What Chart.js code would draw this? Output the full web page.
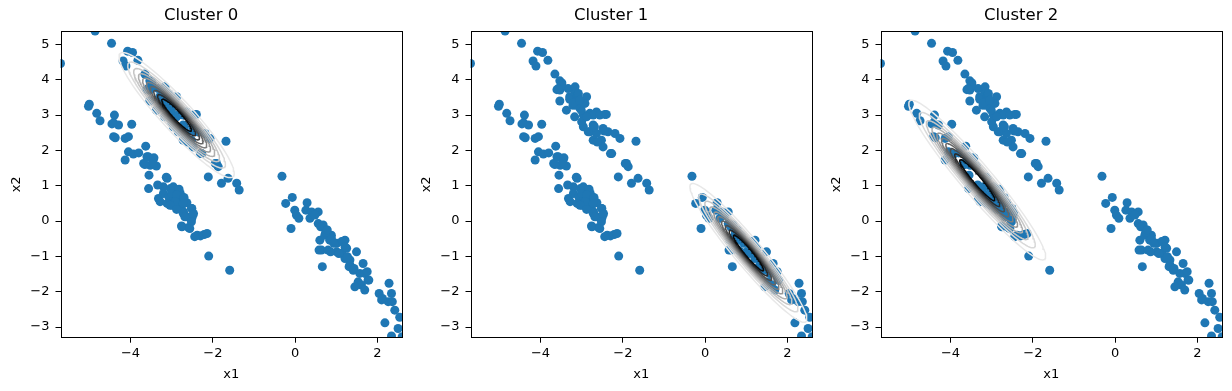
<!DOCTYPE html>
<html>
<head>
<meta charset="utf-8">
<script src="https://cdn.jsdelivr.net/npm/chart.js@4.4.1/dist/chart.umd.min.js"></script>
<style>
html,body{margin:0;padding:0;background:#fff;}
#wrap{position:relative;width:1232px;height:391px;overflow:hidden;}
#wrap canvas{position:absolute;top:0;}
</style>
</head>
<body>
<div id="wrap">
  <canvas id="c0" width="410" height="391" style="left:0px"></canvas>
  <canvas id="c1" width="410" height="391" style="left:410px"></canvas>
  <canvas id="c2" width="410" height="391" style="left:820px"></canvas>
</div>
<script>
// data (x1, x2)
const pointsCluster0 = [
  [-4.86,5.38],[-4.46,5.03],[-5.70,4.46],[-4.07,4.81],[-3.95,4.77],[-4.18,4.53],[-4.11,4.39],[-3.82,4.55],
  [-3.65,4.16],[-3.53,3.97],[-3.48,3.91],[-3.60,3.72],[-3.53,3.40],[-3.53,3.71],[-3.33,3.75],[-3.17,3.66],
  [-3.29,3.52],[-3.09,3.56],[-2.88,3.52],[-3.37,3.14],[-3.21,3.28],[-3.04,3.19],[-3.17,2.95],[-2.96,3.00],
  [-2.80,3.05],[-2.64,3.09],[-2.44,3.02],[-2.96,2.67],[-2.72,2.72],[-2.80,2.53],[-2.64,2.48],[-2.48,2.62],
  [-2.36,2.53],[-2.19,2.48],[-2.07,2.34],[-2.52,2.29],[-2.72,2.29],[-2.48,2.10],[-2.27,1.91],[-1.68,2.26],
  [-1.91,1.63],[-1.87,1.54],[-2.11,1.25],[-1.63,1.21],[-1.79,1.07],[-1.42,1.07],[-1.36,0.88],[-3.16,3.80],
  [-3.08,3.61],[-3.29,3.45],[-3.13,3.40],[-3.01,3.14],[-2.84,3.00],[-2.72,3.00],[-2.56,3.00],[-2.40,3.02],
  [-2.84,2.53],[-2.69,2.67],[-2.45,2.55],[-2.62,2.24],[-2.30,1.91],[-1.94,1.63],[-3.49,3.85],[-3.57,3.75],
  [-2.92,3.33],[-3.00,2.81],[-3.13,3.28],[-2.88,2.95],[-3.20,3.35],[-3.05,3.42]
];
const pointsCluster1 = [
  [-0.32,1.27],[-0.07,0.67],[-0.23,0.50],[-0.01,0.31],[0.03,0.17],[0.09,0.08],[-0.10,-0.21],[0.29,0.52],
  [0.26,0.31],[0.40,0.26],[0.56,0.26],[0.36,0.08],[0.48,0.17],[0.56,-0.07],[0.68,-0.11],[0.76,-0.25],
  [0.88,-0.40],[0.60,-0.54],[0.72,-0.40],[0.84,-0.54],[1.01,-0.63],[1.13,-0.58],[1.21,-0.54],[1.25,-0.77],
  [1.13,-0.91],[1.33,-1.10],[0.64,-0.82],[0.80,-0.82],[0.66,-1.29],[0.88,-0.49],[1.17,-0.58],[1.21,-0.73],
  [1.01,-0.87],[1.21,-1.06],[1.49,-0.87],[1.33,-1.24],[1.41,-1.39],[1.65,-1.20],[1.57,-1.48],[1.69,-1.48],
  [1.77,-1.67],[1.53,-1.72],[1.61,-1.81],[1.45,-1.86],[1.69,-1.95],[2.28,-1.76],[2.04,-2.05],[2.10,-2.23],
  [2.26,-2.28],[2.34,-2.05],[2.42,-2.52],[2.18,-2.88],[2.54,-2.72],[2.50,-3.04],[2.34,-3.25],[2.60,-3.27],
  [0.62,-0.16],[0.74,-0.32],[0.94,-0.63],[0.78,-0.25],[0.86,-0.87],[0.58,-0.82],[1.06,-0.92],[1.27,-1.01],
  [1.31,-1.29],[1.43,-1.34],[1.75,-1.43],[1.79,-1.67],[2.12,-2.19],[2.36,-2.28]
];
const pointsCluster2 = [
  [-5.00,3.31],[-5.02,3.25],[-4.82,3.05],[-4.74,2.84],[-4.39,3.00],[-4.41,2.78],[-4.29,2.72],[-4.45,2.75],
  [-3.97,2.74],[-4.41,2.39],[-4.37,2.36],[-4.13,2.34],[-4.05,2.39],[-3.63,2.12],[-4.05,1.96],[-3.93,1.90],
  [-3.80,1.93],[-4.13,1.73],[-3.60,1.82],[-3.44,1.77],[-3.68,1.63],[-3.52,1.58],[-3.37,1.56],[-3.55,1.30],
  [-3.56,0.92],[-3.11,1.21],[-3.32,0.64],[-3.20,0.97],[-3.03,0.92],[-2.87,0.88],[-2.79,0.78],[-3.20,0.78],
  [-3.07,0.69],[-2.95,0.64],[-2.83,0.59],[-2.71,0.61],[-3.28,0.55],[-3.11,0.50],[-2.99,0.45],[-2.87,0.41],
  [-2.75,0.45],[-2.63,0.52],[-2.51,0.36],[-2.47,0.22],[-2.71,0.26],[-2.63,0.12],[-2.51,0.08],[-2.75,-0.16],
  [-2.59,-0.18],[-2.38,-0.40],[-2.30,-0.42],[-2.21,-0.38],[-2.14,-0.35],[-2.10,-0.99],[-1.59,-1.39],
  [-3.13,1.24],[-3.34,1.02],[-2.96,0.97],[-2.82,0.90],[-3.00,0.78],[-2.88,0.74],[-2.70,0.67],[-2.92,0.55],
  [-3.04,0.45],[-2.72,0.50],[-2.88,0.33],[-2.72,0.22],[-2.68,0.12],[-2.52,0.36],[-2.48,0.17],[-2.52,-0.02],
  [-2.76,-0.14],[-2.56,-0.21],[-2.44,-0.44],[-3.57,1.82],[-3.43,1.79],[-3.45,1.63],[-3.65,1.60]
];

// fitted gaussians, one per panel
const clusterTitles = ['Cluster 0', 'Cluster 1', 'Cluster 2'];
const clusterMeans = [[-2.88, 3.0], [1.05, -0.9], [-3.35, 1.16]];
const clusterCovs = [
  [[0.397, -0.468], [-0.468, 0.635]],
  [[0.409, -0.539], [-0.539, 0.783]],
  [[0.560, -0.728], [-0.728, 1.036]]
];
// contour levels as a fraction of the peak density
const contourLevels = [0.085, 0.17, 0.255, 0.34, 0.425, 0.51, 0.595, 0.68, 0.765, 0.85];
const contourColors = ['#e8e8e8','#d9d9d9','#c6c6c6','#afafaf','#979797','#7e7e7e','#656565','#4b4b4b','#2b2b2b','#080808'];

const xTicks = [-4, -2, 0, 2];
const yTicks = [-3, -2, -1, 0, 1, 2, 3, 4, 5];
const xRange = [-5.7, 2.6];
const yRange = [-3.3, 5.38];

Chart.defaults.font.family = "'DejaVu Sans', sans-serif";
Chart.defaults.color = '#000';

const allPoints = pointsCluster0.concat(pointsCluster1, pointsCluster2).map(p => ({x: p[0], y: p[1]}));

function ellipsePoints(mean, cov, r){
  const a = cov[0][0], b = cov[0][1], d = cov[1][1];
  const tr = a + d, det = a*d - b*b;
  const disc = Math.sqrt(tr*tr/4 - det);
  const l1 = tr/2 + disc, l2 = tr/2 - disc;
  let v1 = [b, l1 - a];
  const n = Math.hypot(v1[0], v1[1]);
  v1 = [v1[0]/n, v1[1]/n];
  const v2 = [-v1[1], v1[0]];
  const s1 = Math.sqrt(l1)*r, s2 = Math.sqrt(l2)*r;
  const out = [];
  for(let i=0;i<=120;i++){
    const t = i/120*Math.PI*2;
    const c = Math.cos(t)*s1, s = Math.sin(t)*s2;
    out.push({x: mean[0] + c*v1[0] + s*v2[0], y: mean[1] + c*v1[1] + s*v2[1]});
  }
  return out;
}

// black box round the plot area
const frame = {
  id: 'frame',
  afterDatasetsDraw(chart){
    const {ctx, chartArea:a} = chart;
    ctx.save();
    ctx.strokeStyle = '#000';
    ctx.lineWidth = 1;
    ctx.strokeRect(Math.round(a.left)+0.5, Math.round(a.top)+0.5, Math.round(a.right-a.left)-1, Math.round(a.bottom-a.top)-1);
    ctx.restore();
  }
};

const fmt = v => (v < 0 ? '\u2212' + Math.abs(v) : String(v));

clusterTitles.forEach((title, k) => {
  const datasets = [];
  contourLevels.forEach((f, i) => {
    const r = Math.sqrt(-2*Math.log(f));
    datasets.push({
      type: 'scatter',
      data: ellipsePoints(clusterMeans[k], clusterCovs[k], r),
      showLine: true,
      borderColor: contourColors[i],
      borderWidth: 1.5,
      pointRadius: 0,
      fill: false,
      tension: 0,
      clip: 0,
      order: contourLevels.length - i
    });
  });
  datasets.push({
    type: 'scatter',
    data: allPoints,
    backgroundColor: '#1f77b4',
    borderWidth: 0,
    pointRadius: 4.5,
    clip: 0,
    order: 50
  });

  new Chart(document.getElementById('c' + k), {
    type: 'scatter',
    data: {datasets},
    plugins: [frame],
    options: {
      responsive: false,
      animation: false,
      devicePixelRatio: 1,
      layout: {padding: {left: 0, right: 7.8, top: 0, bottom: 0}},
      plugins: {
        legend: {display: false},
        tooltip: {enabled: false},
        title: {
          display: true, text: title, color: '#000',
          font: {size: 16.5, weight: 'normal'},
          padding: {top: 6, bottom: 5.2}
        }
      },
      scales: {
        x: {
          type: 'linear', min: xRange[0], max: xRange[1],
          afterBuildTicks: s => { s.ticks = xTicks.map(v => ({value: v})); },
          afterFit: s => { s.height = 53.3; },
          grid: {drawOnChartArea: false, drawTicks: true, tickLength: 5, color: '#000'},
          border: {display: false},
          ticks: {callback: fmt, font: {size: 13}, padding: 3, maxRotation: 0, autoSkip: false, color: '#000'},
          title: {display: true, text: 'x1', font: {size: 13}, padding: {top: 0, bottom: 8.2}, color: '#000'}
        },
        y: {
          type: 'linear', min: yRange[0], max: yRange[1],
          afterBuildTicks: s => { s.ticks = yTicks.map(v => ({value: v})); },
          afterFit: s => { s.width = 60.5; },
          grid: {drawOnChartArea: false, drawTicks: true, tickLength: 5, color: '#000'},
          border: {display: false},
          ticks: {callback: fmt, font: {size: 13}, padding: 6, autoSkip: false, color: '#000'},
          title: {display: true, text: 'x2', font: {size: 13}, padding: {top: 9, bottom: 0}, color: '#000'}
        }
      }
    }
  });
});
</script>
</body>
</html>
